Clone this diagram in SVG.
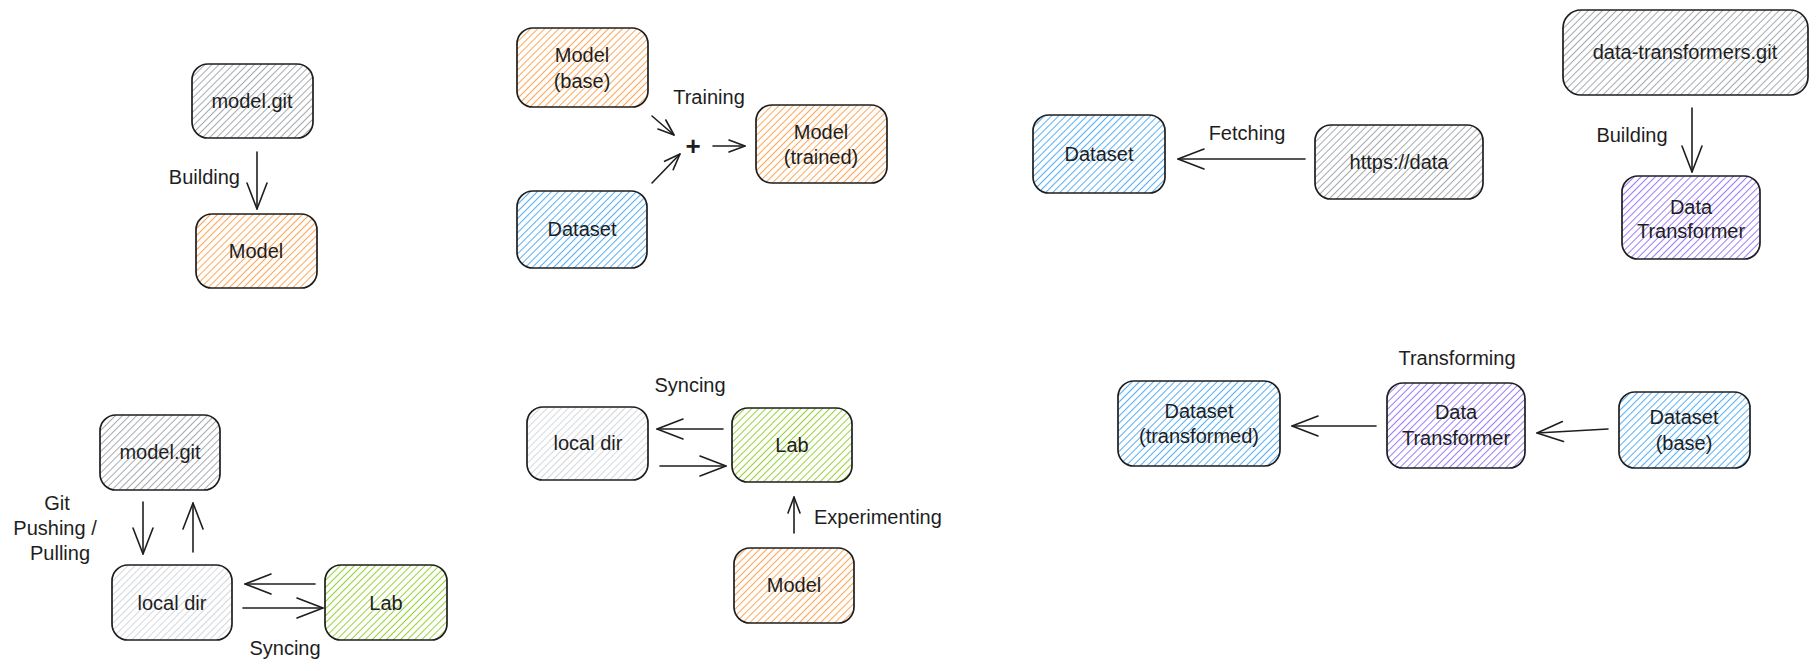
<svg xmlns="http://www.w3.org/2000/svg" width="1817" height="671" viewBox="0 0 1817 671">
  <style>
    .box { stroke: #1e1e1e; stroke-width: 1.7; stroke-linejoin: round; }
    .t { font-family: "Liberation Sans", Arial, sans-serif; font-size: 20px; fill: #1e1e1e; text-anchor: middle; dominant-baseline: central; }
    .l { text-anchor: start; }
    .e { text-anchor: end; }
    .edge { stroke: #1e1e1e; stroke-width: 1.6; fill: none; stroke-linecap: round; }
    .lg { marker-end: url(#head-lg); }
    .sm { marker-end: url(#head-sm); }
  </style>
  <defs>
    <!-- hachure fills, one per colour -->
    <pattern id="h-gray" patternUnits="userSpaceOnUse" width="5" height="5" patternTransform="rotate(45)">
      <line x1="0" y1="0" x2="0" y2="5" stroke="#a0a6ac" stroke-width="1.9"/>
    </pattern>
    <pattern id="h-light" patternUnits="userSpaceOnUse" width="5" height="5" patternTransform="rotate(45)">
      <line x1="0" y1="0" x2="0" y2="5" stroke="#ced4da" stroke-width="1.8"/>
    </pattern>
    <pattern id="h-orange" patternUnits="userSpaceOnUse" width="5" height="5" patternTransform="rotate(45)">
      <line x1="0" y1="0" x2="0" y2="5" stroke="#ffa04a" stroke-width="1.9"/>
    </pattern>
    <pattern id="h-blue" patternUnits="userSpaceOnUse" width="5" height="5" patternTransform="rotate(45)">
      <line x1="0" y1="0" x2="0" y2="5" stroke="#4dabf7" stroke-width="1.9"/>
    </pattern>
    <pattern id="h-purple" patternUnits="userSpaceOnUse" width="5" height="5" patternTransform="rotate(45)">
      <line x1="0" y1="0" x2="0" y2="5" stroke="#9775fa" stroke-width="1.9"/>
    </pattern>
    <pattern id="h-green" patternUnits="userSpaceOnUse" width="5" height="5" patternTransform="rotate(45)">
      <line x1="0" y1="0" x2="0" y2="5" stroke="#8fd12a" stroke-width="1.9"/>
    </pattern>
    <marker id="head-lg" markerUnits="userSpaceOnUse" viewBox="-30 -15 34 30" refX="0" refY="0" markerWidth="34" markerHeight="30" orient="auto" overflow="visible">
      <path d="M -26 -10 L 0 0 L -26 10" fill="none" stroke="#1e1e1e" stroke-width="1.6" stroke-linecap="round" stroke-linejoin="round"/>
    </marker>
    <marker id="head-sm" markerUnits="userSpaceOnUse" viewBox="-20 -10 24 20" refX="0" refY="0" markerWidth="24" markerHeight="20" orient="auto" overflow="visible">
      <path d="M -16 -6 L 0 0 L -16 6" fill="none" stroke="#1e1e1e" stroke-width="1.6" stroke-linecap="round" stroke-linejoin="round"/>
    </marker>
  </defs>

  <rect width="1817" height="671" fill="#ffffff"/>

  <!-- connectors -->
  <g id="connectors">
    <path class="edge lg" d="M 257 152 L 257 209"/>
    <path class="edge sm" d="M 652 116 L 674 135"/>
    <path class="edge sm" d="M 652 183 L 680 154"/>
    <path class="edge sm" d="M 713 146 L 745 146"/>
    <path class="edge lg" d="M 1305 159 L 1178 159"/>
    <path class="edge lg" d="M 1692 108 L 1692 172"/>
    <path class="edge lg" d="M 143 502 L 143 554"/>
    <path class="edge lg" d="M 193 552 L 193 503"/>
    <path class="edge lg" d="M 315 584 L 245 584"/>
    <path class="edge lg" d="M 243 608 L 323 608"/>
    <path class="edge lg" d="M 723 429 L 657 429"/>
    <path class="edge lg" d="M 660 466 L 726 466"/>
    <path class="edge sm" d="M 794 533 L 794 497"/>
    <path class="edge lg" d="M 1376 426 L 1292 426"/>
    <path class="edge lg" d="M 1608 429 L 1537 433"/>
  </g>

  <!-- connector labels -->
  <g id="labels">
    <text class="t e" x="240" y="177">Building</text>
    <text class="t" x="709" y="97">Training</text>
    <text class="t" x="693" y="146" style="font-size:26px;font-weight:bold">+</text>
    <text class="t" x="1247" y="133">Fetching</text>
    <text class="t" x="1632" y="135">Building</text>
    <text class="t" x="57" y="503">Git</text>
    <text class="t" x="55" y="528">Pushing /</text>
    <text class="t" x="60" y="553">Pulling</text>
    <text class="t" x="285" y="648">Syncing</text>
    <text class="t" x="690" y="385">Syncing</text>
    <text class="t l" x="814" y="517">Experimenting</text>
    <text class="t" x="1457" y="358">Transforming</text>
  </g>

  <!-- build: model repo to model -->
  <g id="model-git-1">
    <rect class="box" x="192" y="64" width="121" height="74" rx="16" fill="url(#h-gray)"/>
    <text class="t" x="252" y="101">model.git</text>
  </g>
  <g id="model-1">
    <rect class="box" x="196" y="214" width="121" height="74" rx="16" fill="url(#h-orange)"/>
    <text class="t" x="256" y="251">Model</text>
  </g>

  <!-- training -->
  <g id="model-base">
    <rect class="box" x="517" y="28" width="131" height="79" rx="16" fill="url(#h-orange)"/>
    <text class="t" x="582" y="55">Model</text>
    <text class="t" x="582" y="81">(base)</text>
  </g>
  <g id="dataset-1">
    <rect class="box" x="517" y="191" width="130" height="77" rx="16" fill="url(#h-blue)"/>
    <text class="t" x="582" y="229">Dataset</text>
  </g>
  <g id="model-trained">
    <rect class="box" x="756" y="105" width="131" height="78" rx="16" fill="url(#h-orange)"/>
    <text class="t" x="821" y="132">Model</text>
    <text class="t" x="821" y="157">(trained)</text>
  </g>

  <!-- fetching -->
  <g id="dataset-2">
    <rect class="box" x="1033" y="115" width="132" height="78" rx="16" fill="url(#h-blue)"/>
    <text class="t" x="1099" y="154">Dataset</text>
  </g>
  <g id="https-data">
    <rect class="box" x="1315" y="125" width="168" height="74" rx="16" fill="url(#h-gray)"/>
    <text class="t" x="1399" y="162">https://data</text>
  </g>

  <!-- build: transformer repo to transformer -->
  <g id="data-transformers-git">
    <rect class="box" x="1563" y="10" width="245" height="85" rx="18" fill="url(#h-gray)"/>
    <text class="t" x="1685" y="52">data-transformers.git</text>
  </g>
  <g id="data-transformer-1">
    <rect class="box" x="1622" y="176" width="138" height="83" rx="16" fill="url(#h-purple)"/>
    <text class="t" x="1691" y="207">Data</text>
    <text class="t" x="1691" y="231">Transformer</text>
  </g>

  <!-- git push / pull and syncing -->
  <g id="model-git-2">
    <rect class="box" x="100" y="415" width="120" height="75" rx="16" fill="url(#h-gray)"/>
    <text class="t" x="160" y="452">model.git</text>
  </g>
  <g id="local-dir-1">
    <rect class="box" x="112" y="565" width="120" height="75" rx="16" fill="url(#h-light)"/>
    <text class="t" x="172" y="603">local dir</text>
  </g>
  <g id="lab-1">
    <rect class="box" x="325" y="565" width="122" height="75" rx="16" fill="url(#h-green)"/>
    <text class="t" x="386" y="603">Lab</text>
  </g>

  <!-- experimenting -->
  <g id="local-dir-2">
    <rect class="box" x="527" y="407" width="121" height="73" rx="16" fill="url(#h-light)"/>
    <text class="t" x="588" y="443">local dir</text>
  </g>
  <g id="lab-2">
    <rect class="box" x="732" y="408" width="120" height="74" rx="16" fill="url(#h-green)"/>
    <text class="t" x="792" y="445">Lab</text>
  </g>
  <g id="model-2">
    <rect class="box" x="734" y="548" width="120" height="75" rx="16" fill="url(#h-orange)"/>
    <text class="t" x="794" y="585">Model</text>
  </g>

  <!-- transforming -->
  <g id="dataset-transformed">
    <rect class="box" x="1118" y="381" width="162" height="85" rx="16" fill="url(#h-blue)"/>
    <text class="t" x="1199" y="411">Dataset</text>
    <text class="t" x="1199" y="436">(transformed)</text>
  </g>
  <g id="data-transformer-2">
    <rect class="box" x="1387" y="383" width="138" height="85" rx="16" fill="url(#h-purple)"/>
    <text class="t" x="1456" y="412">Data</text>
    <text class="t" x="1456" y="438">Transformer</text>
  </g>
  <g id="dataset-base">
    <rect class="box" x="1619" y="392" width="131" height="76" rx="16" fill="url(#h-blue)"/>
    <text class="t" x="1684" y="417">Dataset</text>
    <text class="t" x="1684" y="443">(base)</text>
  </g>
</svg>
